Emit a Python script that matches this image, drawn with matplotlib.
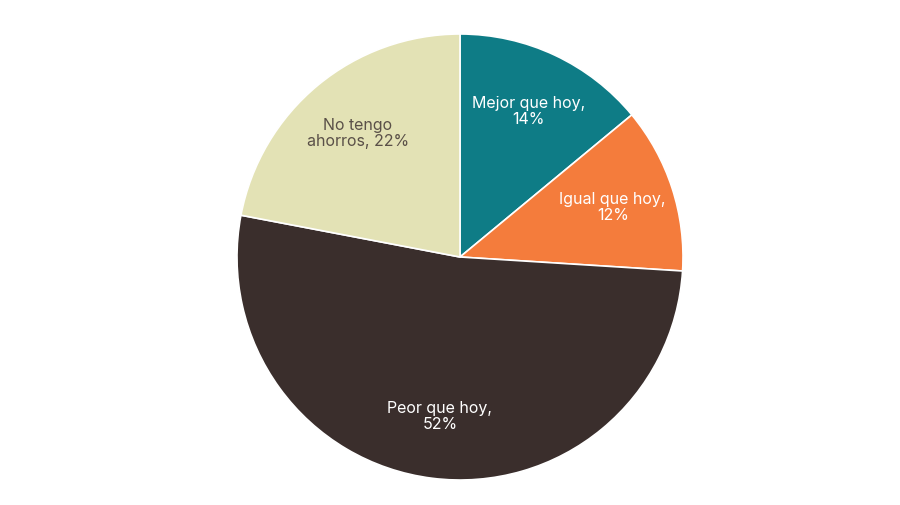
import matplotlib
matplotlib.use("Agg")
import matplotlib.pyplot as plt
import numpy as np

labels = ["Mejor que hoy,\n14%", "Igual que hoy,\n12%", "Peor que hoy,\n52%", "No tengo\nahorros, 22%"]
values = [14, 12, 52, 22]
colors = ["#0E7C86", "#F47C3C", "#3A2E2C", "#E3E2B5"]
text_colors = ["white", "white", "white", "#5a5048"]

fig = plt.figure(figsize=(9, 5.05), dpi=100)
ax = fig.add_axes([0, 0, 1, 1])
R = 223.0
wedges, _ = ax.pie(values, colors=colors, startangle=90, counterclock=False,
                   wedgeprops=dict(edgecolor="white", linewidth=1.2), radius=1)
ax.set_xlim(-460 / R, 440 / R)
ax.set_ylim(-248 / R, 257 / R)
ax.set_aspect("equal")
ax.axis("off")
for w, lab, tc in zip(wedges, labels, text_colors):
    ang = np.deg2rad((w.theta1 + w.theta2) / 2)
    r = 0.72
    ax.text(r * np.cos(ang), r * np.sin(ang), lab, ha="center", va="center",
            color=tc, fontsize=11.5, family="Inter", linespacing=1.1)
fig.savefig("out.png", dpi=100)
